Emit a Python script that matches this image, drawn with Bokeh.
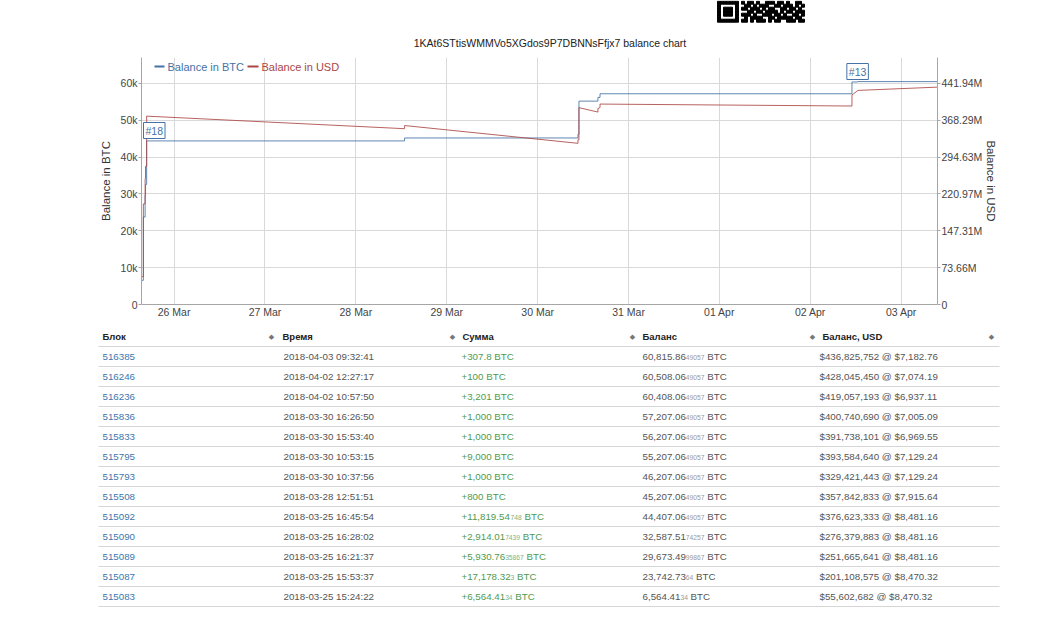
import pandas as pd
from bokeh.plotting import figure
from bokeh.models import (Range1d, LinearAxis, FixedTicker, DaysTicker,
                          DatetimeTickFormatter, Label)
from bokeh.embed import file_html
from bokeh.resources import INLINE
from bokeh.core.properties import value

FONT = "Liberation Sans"

# ---------------- data ----------------
title_text = "1KAt6STtisWMMVo5XGdos9P7DBNNsFfjx7 balance chart"
series_names = ["Balance in BTC", "Balance in USD"]

blocks = ["516385", "516246", "516236", "515836", "515833", "515795", "515793",
          "515508", "515092", "515090", "515089", "515087", "515083"]
times = ["2018-04-03 09:32:41", "2018-04-02 12:27:17", "2018-04-02 10:57:50",
         "2018-03-30 16:26:50", "2018-03-30 15:53:40", "2018-03-30 10:53:15",
         "2018-03-30 10:37:56", "2018-03-28 12:51:51", "2018-03-25 16:45:54",
         "2018-03-25 16:28:02", "2018-03-25 16:21:37", "2018-03-25 15:53:37",
         "2018-03-25 15:24:22"]
amount_main = ["+307.8", "+100", "+3,201", "+1,000", "+1,000", "+9,000", "+1,000",
               "+800", "+11,819.54", "+2,914.01", "+5,930.76", "+17,178.32", "+6,564.41"]
amount_small = ["", "", "", "", "", "", "", "", "748", "7439", "35867", "3", "34"]
balance_main = ["60,815.86", "60,508.06", "60,408.06", "57,207.06", "56,207.06",
                "55,207.06", "46,207.06", "45,207.06", "44,407.06", "32,587.51",
                "29,673.49", "23,742.73", "6,564.41"]
balance_small = ["49057", "49057", "49057", "49057", "49057", "49057", "49057",
                 "49057", "49057", "74257", "99867", "64", "34"]
balance_usd = ["$436,825,752 @ $7,182.76", "$428,045,450 @ $7,074.19",
               "$419,057,193 @ $6,937.11", "$400,740,690 @ $7,005.09",
               "$391,738,101 @ $6,969.55", "$393,584,640 @ $7,129.24",
               "$329,421,443 @ $7,129.24", "$357,842,833 @ $7,915.64",
               "$376,623,333 @ $8,481.16", "$276,379,883 @ $8,481.16",
               "$251,665,641 @ $8,481.16", "$201,108,575 @ $8,470.32",
               "$55,602,682 @ $8,470.32"]
unit = "BTC"
table_headers = ["Блок", "Время", "Сумма", "Баланс", "Баланс, USD"]

# chart series (balance just before / after each transaction)
chart_times = ["2018-03-25 15:24:22", "2018-03-25 15:53:37", "2018-03-25 15:53:37",
               "2018-03-25 16:21:37", "2018-03-25 16:21:37", "2018-03-25 16:28:02",
               "2018-03-25 16:28:02", "2018-03-25 16:45:54", "2018-03-25 16:45:54",
               "2018-03-28 12:51:51", "2018-03-28 12:51:51", "2018-03-30 10:37:56",
               "2018-03-30 10:37:56", "2018-03-30 10:53:15", "2018-03-30 10:53:15",
               "2018-03-30 15:53:40", "2018-03-30 15:53:40", "2018-03-30 16:26:50",
               "2018-03-30 16:26:50", "2018-04-02 10:57:50", "2018-04-02 10:57:50",
               "2018-04-02 12:27:17", "2018-04-02 12:27:17", "2018-04-03 09:32:41",
               "2018-04-03 09:32:41"]
chart_btc = [6564.4134, 6564.4134, 23742.7364, 23742.7364, 29673.4999867,
             29673.4999867, 32587.5174257, 32587.5174257, 44407.0649057,
             44407.0649057, 45207.0649057, 45207.0649057, 46207.0649057,
             46207.0649057, 55207.0649057, 55207.0649057, 56207.0649057,
             56207.0649057, 57207.0649057, 57207.0649057, 60408.0649057,
             60408.0649057, 60508.0649057, 60508.0649057, 60815.8649057]
chart_usd_m = [55.602682, 55.602682, 201.108575, 201.365945, 251.665641,
               251.665641, 276.379883, 276.379883, 376.623333,
               351.510339, 357.842833, 322.292015, 329.421443,
               329.421443, 393.584640, 384.768399, 391.738101,
               393.735548, 400.740690, 396.851702, 419.057193,
               427.338128, 428.045450, 434.614908, 436.825752]

btc_ticks = [0, 10000, 20000, 30000, 40000, 50000, 60000]
btc_tick_labels = ["0", "10k", "20k", "30k", "40k", "50k", "60k"]
usd_ticks_m = [0, 73.6572, 147.3144, 220.9716, 294.6288, 368.286, 441.9432]
usd_tick_labels = ["0", "73.66M", "147.31M", "220.97M", "294.63M", "368.29M", "441.94M"]
btc_axis_max = 67050
usd_axis_max_m = 493.87

annotations = ["#18", "#13"]
annotation_times = ["2018-03-25 16:21:37", "2018-04-02 12:27:17"]

# ---------------- styling ----------------
BLUE = "#4572A7"
RED = "#AA4643"
W = 1060


def blank(height, y_top, y_bottom):
    f = figure(width=W, height=height, x_range=Range1d(0, W),
               y_range=Range1d(y_bottom, y_top), x_axis_type=None, y_axis_type=None,
               output_backend="svg", toolbar_location=None, min_border=0)
    f.grid.visible = False
    f.outline_line_color = None
    return f


# ---------------- header (y 0..50) ----------------
hdr = blank(50, 0, 50)

qr_rows = ["1111111" + "0" + "101101001110110100110",
           "1000001" + "0" + "011010111001101110101",
           "1011101" + "0" + "110111010110011011010",
           "1011101" + "0" + "001101101111010110111",
           "1011101" + "0" + "111010011101101001101",
           "1000001" + "0" + "010111100110111110110",
           "1111111" + "0" + "110101110101100111011"]
ql, qr_, qt, qb = [], [], [], []
for r, row in enumerate(qr_rows):
    for c, ch in enumerate(row):
        if ch == "1":
            ql.append(717 + 3 * c); qr_.append(720 + 3 * c)
            qt.append(0.7 + 3 * r); qb.append(3.7 + 3 * r)
hdr.quad(left=ql, right=qr_, top=qt, bottom=qb, color="black")
hdr.text(x=[549.5], y=[42], text=[title_text], text_align="center",
         text_baseline="middle", text_font=value(FONT), text_font_size="10.5px",
         text_color="#222222")

# ---------------- chart (y 50..326) ----------------
ct = pd.to_datetime(pd.Series(chart_times))
x0 = pd.Timestamp(chart_times[0])
x1 = pd.Timestamp(chart_times[-1])
p = figure(width=W, height=276, x_axis_type="datetime",
           x_range=Range1d(x0, x1), y_range=Range1d(0, btc_axis_max),
           output_backend="svg", toolbar_location=None,
           min_border_left=141, min_border_right=W - 937, min_border_top=7,
           min_border_bottom=22)
p.extra_y_ranges = {"usd": Range1d(0, usd_axis_max_m), "px": Range1d(304, 57)}
p.extra_x_ranges = {"px": Range1d(141, 937)}
p.outline_line_color = None

p.line(ct, chart_btc, line_color=BLUE, line_width=1, line_alpha=0.85)
p.line(ct, chart_usd_m, line_color=RED, line_width=1, line_alpha=0.85,
       y_range_name="usd")

xa = p.xaxis[0]
xa.ticker = DaysTicker(days=list(range(1, 32)))
xa.formatter = DatetimeTickFormatter(days="%d %b", months="%d %b", hours="%d %b")
ya = p.yaxis[0]
ya.ticker = FixedTicker(ticks=btc_ticks)
ya.major_label_overrides = {t: l for t, l in zip(btc_ticks, btc_tick_labels)}
ya.axis_label = "Balance in BTC"
yr = LinearAxis(y_range_name="usd", axis_label="Balance in USD",
                ticker=FixedTicker(ticks=usd_ticks_m))
yr.major_label_overrides = {t: l for t, l in zip(usd_ticks_m, usd_tick_labels)}
p.add_layout(yr, "right")

for ax in (xa, ya, yr):
    ax.axis_line_color = "#a6a6a6"
    ax.major_tick_line_color = "#a6a6a6"
    ax.minor_tick_line_color = None
    ax.major_tick_in = 0
    ax.major_tick_out = 3
    ax.major_label_standoff = 1
    ax.major_label_text_font = FONT
    ax.major_label_text_font_size = "10.5px"
    ax.major_label_text_color = "#444444"
    ax.axis_label_text_font = FONT
    ax.axis_label_text_font_size = "11.5px"
    ax.axis_label_text_font_style = "normal"
    ax.axis_label_text_color = "#333333"
xa.major_tick_out = 0
ya.axis_label_standoff = 6
yr.axis_label_standoff = 0

p.xgrid.ticker = xa.ticker
p.ygrid.ticker = ya.ticker
p.xgrid.grid_line_color = "#d9d9d9"
p.ygrid.grid_line_color = "#d9d9d9"

px = dict(x_range_name="px", y_range_name="px")
# legend (coloured texts, as in the original)
p.segment(x0=[154, 247], y0=[66, 66], x1=[164, 258], y1=[66, 66],
          line_color=[BLUE, RED], line_width=2, **px)
p.text(x=[167, 261], y=[66, 66], text=series_names, text_baseline="middle",
       text_font=value(FONT), text_font_size="11px", text_color=[BLUE, RED], **px)

# annotation flags: #18 kept just inside the frame's left edge
lab_kw = dict(text_baseline="middle", text_font=FONT, text_font_size="10.5px",
              text_color=BLUE, background_fill_color="white",
              border_line_color=BLUE, border_line_width=1, padding=2)
p.add_layout(Label(x=143, y=130, x_range_name="px", y_range_name="px",
                   text=annotations[0], text_align="left", **lab_kw))
p.add_layout(Label(x=pd.Timestamp(annotation_times[1]), y=71, y_range_name="px",
                   text=annotations[1], text_align="center", **lab_kw))

# ---------------- table (y 326..620) ----------------
tb = blank(294, 326, 620)

EM = {",": 0.278, ".": 0.278, "+": 0.584, " ": 0.278, "B": 0.667, "T": 0.611,
      "C": 0.722, "$": 0.556, "@": 1.015}


def tw(s, size):
    return sum(EM.get(ch, 0.556) for ch in s) * size


BODY = 9.75
SMALL = 6.7
SMALL_DY = (BODY - SMALL) * 0.3465   # keep small digits on the same baseline
col_x = [102, 282, 462, 642, 822]
icon_x = [271, 452, 632, 812, 991]
n = len(blocks)
mid = [356 + 20 * i for i in range(n)]
mid_small = [m + SMALL_DY for m in mid]

tb.text(x=col_x, y=[336] * 5, text=table_headers, text_font=value(FONT),
        text_baseline="middle", text_font_size="9.5px", text_font_style="bold",
        text_color="#222222")
tb.text(x=icon_x, y=[336] * 5, text=["◆"] * 5, text_font=value("DejaVu Sans"),
        text_baseline="middle", text_font_size="7px", text_color="#777777",
        text_align="center")

sep_y = [346 + 20 * i for i in range(n + 1)]
tb.segment(x0=[98] * (n + 1), x1=[999] * (n + 1), y0=sep_y, y1=sep_y,
           line_color="#d6d6d6", line_width=1)

common = dict(text_font=value(FONT), text_baseline="middle")
tb.text(x=[102] * n, y=mid, text=blocks, text_font_size=f"{BODY}px",
        text_color="#3b76ad", **common)
tb.text(x=[283] * n, y=mid, text=times, text_font_size=f"{BODY}px",
        text_color="#555555", **common)

SPACE = tw(" ", BODY)
am_x = 461
tb.text(x=[am_x] * n, y=mid, text=amount_main, text_font_size=f"{BODY}px",
        text_color="#4f9a4f", **common)
sx = [am_x + tw(m, BODY) for m in amount_main]
tb.text(x=sx, y=mid_small, text=amount_small, text_font_size=f"{SMALL}px",
        text_color="#7fb07f", **common)
bx = [s + tw(sm, SMALL) + SPACE for s, sm in zip(sx, amount_small)]
tb.text(x=bx, y=mid, text=[unit] * n, text_font_size=f"{BODY}px",
        text_color="#4f9a4f", **common)

bl_x = 642
tb.text(x=[bl_x] * n, y=mid, text=balance_main, text_font_size=f"{BODY}px",
        text_color="#555555", **common)
sx2 = [bl_x + tw(m, BODY) for m in balance_main]
tb.text(x=sx2, y=mid_small, text=balance_small, text_font_size=f"{SMALL}px",
        text_color="#999999", **common)
bx2 = [s + tw(sm, SMALL) + SPACE for s, sm in zip(sx2, balance_small)]
tb.text(x=bx2, y=mid, text=[unit] * n, text_font_size=f"{BODY}px",
        text_color="#555555", **common)

tb.text(x=[819] * n, y=mid, text=balance_usd, text_font_size=f"{BODY}px",
        text_color="#555555", **common)

open("out.html", "w").write(file_html([hdr, p, tb], INLINE))
